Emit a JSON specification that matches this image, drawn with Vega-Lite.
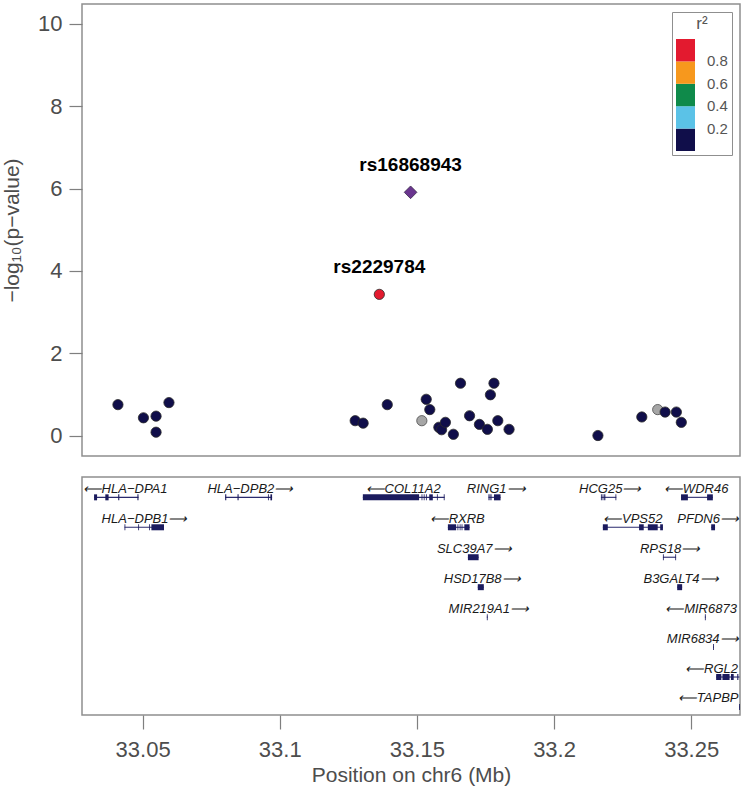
{
  "$schema": "https://vega.github.io/schema/vega-lite/v6.json",
  "background": "white",
  "padding": {"top": 3, "left": 0, "right": 3, "bottom": 2},
  "config": {
    "font": "Liberation Sans",
    "view": {"stroke": "#8f8f8f", "strokeWidth": 1.5},
    "concat": {"spacing": 19}
  },
  "datasets": {
    "snps": [
      {"snp": "rs16868943", "pos": 33.1477, "logp": 5.91, "r2": 1.0, "kind": "lead"},
      {"snp": "rs2229784", "pos": 33.1363, "logp": 3.43, "r2": 0.92, "kind": "ld"},
      {"snp": "", "pos": 33.0410, "logp": 0.75, "r2": 0.05, "kind": "ld"},
      {"snp": "", "pos": 33.0503, "logp": 0.43, "r2": 0.04, "kind": "ld"},
      {"snp": "", "pos": 33.0549, "logp": 0.47, "r2": 0.06, "kind": "ld"},
      {"snp": "", "pos": 33.0549, "logp": 0.08, "r2": 0.03, "kind": "ld"},
      {"snp": "", "pos": 33.0596, "logp": 0.80, "r2": 0.05, "kind": "ld"},
      {"snp": "", "pos": 33.1275, "logp": 0.36, "r2": 0.08, "kind": "ld"},
      {"snp": "", "pos": 33.1304, "logp": 0.30, "r2": 0.07, "kind": "ld"},
      {"snp": "", "pos": 33.1392, "logp": 0.75, "r2": 0.10, "kind": "ld"},
      {"snp": "", "pos": 33.1518, "logp": 0.36, "r2": null, "kind": "na"},
      {"snp": "", "pos": 33.1534, "logp": 0.88, "r2": 0.12, "kind": "ld"},
      {"snp": "", "pos": 33.1547, "logp": 0.63, "r2": 0.11, "kind": "ld"},
      {"snp": "", "pos": 33.1580, "logp": 0.20, "r2": 0.06, "kind": "ld"},
      {"snp": "", "pos": 33.1590, "logp": 0.14, "r2": 0.05, "kind": "ld"},
      {"snp": "", "pos": 33.1604, "logp": 0.32, "r2": 0.07, "kind": "ld"},
      {"snp": "", "pos": 33.1633, "logp": 0.03, "r2": 0.02, "kind": "ld"},
      {"snp": "", "pos": 33.1659, "logp": 1.27, "r2": 0.15, "kind": "ld"},
      {"snp": "", "pos": 33.1692, "logp": 0.48, "r2": 0.06, "kind": "ld"},
      {"snp": "", "pos": 33.1728, "logp": 0.27, "r2": 0.04, "kind": "ld"},
      {"snp": "", "pos": 33.1757, "logp": 0.15, "r2": 0.03, "kind": "ld"},
      {"snp": "", "pos": 33.1768, "logp": 0.99, "r2": 0.13, "kind": "ld"},
      {"snp": "", "pos": 33.1781, "logp": 1.27, "r2": 0.14, "kind": "ld"},
      {"snp": "", "pos": 33.1795, "logp": 0.36, "r2": 0.05, "kind": "ld"},
      {"snp": "", "pos": 33.1836, "logp": 0.15, "r2": 0.03, "kind": "ld"},
      {"snp": "", "pos": 33.2160, "logp": 0.0, "r2": 0.01, "kind": "ld"},
      {"snp": "", "pos": 33.2320, "logp": 0.45, "r2": 0.04, "kind": "ld"},
      {"snp": "", "pos": 33.2378, "logp": 0.63, "r2": null, "kind": "na"},
      {"snp": "", "pos": 33.2405, "logp": 0.57, "r2": 0.05, "kind": "ld"},
      {"snp": "", "pos": 33.2446, "logp": 0.57, "r2": 0.04, "kind": "ld"},
      {"snp": "", "pos": 33.2464, "logp": 0.32, "r2": 0.03, "kind": "ld"}
    ],
    "genes": [
      {"gene": "HLA-DPA1", "row": 1, "start": 33.0323, "end": 33.0485, "label": "⟵HLA−DPA1", "lab": 33.0436},
      {"gene": "HLA-DPB2", "row": 1, "start": 33.0801, "end": 33.0972, "label": "HLA−DPB2⟶", "lab": 33.0893},
      {"gene": "COL11A2", "row": 1, "start": 33.1303, "end": 33.1601, "label": "⟵COL11A2", "lab": 33.1450},
      {"gene": "RING1", "row": 1, "start": 33.1761, "end": 33.1805, "label": "RING1⟶", "lab": 33.1789},
      {"gene": "HCG25", "row": 1, "start": 33.2171, "end": 33.2227, "label": "HCG25⟶", "lab": 33.2205},
      {"gene": "WDR46", "row": 1, "start": 33.2463, "end": 33.2579, "label": "⟵WDR46", "lab": 33.2518},
      {"gene": "HLA-DPB1", "row": 2, "start": 33.0434, "end": 33.0578, "label": "HLA−DPB1⟶", "lab": 33.0507},
      {"gene": "RXRB", "row": 2, "start": 33.1613, "end": 33.1692, "label": "⟵RXRB", "lab": 33.1647},
      {"gene": "VPS52", "row": 2, "start": 33.2178, "end": 33.2397, "label": "⟵VPS52", "lab": 33.2287},
      {"gene": "PFDN6", "row": 2, "start": 33.2573, "end": 33.2587, "label": "PFDN6⟶", "lab": 33.2562},
      {"gene": "SLC39A7", "row": 3, "start": 33.1686, "end": 33.1725, "label": "SLC39A7⟶", "lab": 33.1709},
      {"gene": "RPS18", "row": 3, "start": 33.2397, "end": 33.2445, "label": "RPS18⟶", "lab": 33.2423},
      {"gene": "HSD17B8", "row": 4, "start": 33.1722, "end": 33.1744, "label": "HSD17B8⟶", "lab": 33.1738},
      {"gene": "B3GALT4", "row": 4, "start": 33.2449, "end": 33.2467, "label": "B3GALT4⟶", "lab": 33.2463},
      {"gene": "MIR219A1", "row": 5, "start": 33.1755, "end": 33.1758, "label": "MIR219A1⟶", "lab": 33.1762},
      {"gene": "MIR6873", "row": 5, "start": 33.2550, "end": 33.2553, "label": "⟵MIR6873", "lab": 33.2536},
      {"gene": "MIR6834", "row": 6, "start": 33.2580, "end": 33.2583, "label": "MIR6834⟶", "lab": 33.2542},
      {"gene": "RGL2", "row": 7, "start": 33.2591, "end": 33.2676, "label": "⟵RGL2", "lab": 33.2574},
      {"gene": "TAPBP", "row": 8, "start": 33.2675, "end": 33.2700, "label": "⟵TAPBP", "lab": 33.2562}
    ],
    "exons": [
      {"gene": "HLA-DPA1", "row": 1, "start": 33.0323, "end": 33.0334},
      {"gene": "HLA-DPA1", "row": 1, "start": 33.0364, "end": 33.0376},
      {"gene": "HLA-DPA1", "row": 1, "start": 33.0411, "end": 33.0415},
      {"gene": "HLA-DPA1", "row": 1, "start": 33.0481, "end": 33.0485},
      {"gene": "HLA-DPB2", "row": 1, "start": 33.0801, "end": 33.0805},
      {"gene": "HLA-DPB2", "row": 1, "start": 33.0846, "end": 33.0850},
      {"gene": "HLA-DPB2", "row": 1, "start": 33.0957, "end": 33.0960},
      {"gene": "HLA-DPB2", "row": 1, "start": 33.0966, "end": 33.0972},
      {"gene": "COL11A2", "row": 1, "start": 33.1303, "end": 33.1508},
      {"gene": "COL11A2", "row": 1, "start": 33.1517, "end": 33.1520},
      {"gene": "COL11A2", "row": 1, "start": 33.1525, "end": 33.1528},
      {"gene": "COL11A2", "row": 1, "start": 33.1533, "end": 33.1536},
      {"gene": "COL11A2", "row": 1, "start": 33.1545, "end": 33.1558},
      {"gene": "COL11A2", "row": 1, "start": 33.1573, "end": 33.1576},
      {"gene": "COL11A2", "row": 1, "start": 33.1598, "end": 33.1601},
      {"gene": "RING1", "row": 1, "start": 33.1761, "end": 33.1765},
      {"gene": "RING1", "row": 1, "start": 33.1768, "end": 33.1772},
      {"gene": "RING1", "row": 1, "start": 33.1781, "end": 33.1805},
      {"gene": "HCG25", "row": 1, "start": 33.2171, "end": 33.2174},
      {"gene": "HCG25", "row": 1, "start": 33.2177, "end": 33.2180},
      {"gene": "HCG25", "row": 1, "start": 33.2183, "end": 33.2187},
      {"gene": "HCG25", "row": 1, "start": 33.2224, "end": 33.2227},
      {"gene": "WDR46", "row": 1, "start": 33.2463, "end": 33.2488},
      {"gene": "WDR46", "row": 1, "start": 33.2558, "end": 33.2579},
      {"gene": "HLA-DPB1", "row": 2, "start": 33.0434, "end": 33.0437},
      {"gene": "HLA-DPB1", "row": 2, "start": 33.0484, "end": 33.0487},
      {"gene": "HLA-DPB1", "row": 2, "start": 33.0524, "end": 33.0527},
      {"gene": "HLA-DPB1", "row": 2, "start": 33.0532, "end": 33.0578},
      {"gene": "RXRB", "row": 2, "start": 33.1613, "end": 33.1643},
      {"gene": "RXRB", "row": 2, "start": 33.1648, "end": 33.1651},
      {"gene": "RXRB", "row": 2, "start": 33.1656, "end": 33.1659},
      {"gene": "RXRB", "row": 2, "start": 33.1663, "end": 33.1666},
      {"gene": "RXRB", "row": 2, "start": 33.1673, "end": 33.1692},
      {"gene": "VPS52", "row": 2, "start": 33.2178, "end": 33.2196},
      {"gene": "VPS52", "row": 2, "start": 33.2310, "end": 33.2327},
      {"gene": "VPS52", "row": 2, "start": 33.2342, "end": 33.2378},
      {"gene": "VPS52", "row": 2, "start": 33.2387, "end": 33.2397},
      {"gene": "PFDN6", "row": 2, "start": 33.2573, "end": 33.2587},
      {"gene": "SLC39A7", "row": 3, "start": 33.1686, "end": 33.1725},
      {"gene": "RPS18", "row": 3, "start": 33.2397, "end": 33.2400},
      {"gene": "RPS18", "row": 3, "start": 33.2442, "end": 33.2445},
      {"gene": "HSD17B8", "row": 4, "start": 33.1722, "end": 33.1744},
      {"gene": "B3GALT4", "row": 4, "start": 33.2449, "end": 33.2467},
      {"gene": "MIR219A1", "row": 5, "start": 33.1755, "end": 33.1758},
      {"gene": "MIR6873", "row": 5, "start": 33.2550, "end": 33.2553},
      {"gene": "MIR6834", "row": 6, "start": 33.2580, "end": 33.2583},
      {"gene": "RGL2", "row": 7, "start": 33.2591, "end": 33.2610},
      {"gene": "RGL2", "row": 7, "start": 33.2614, "end": 33.2640},
      {"gene": "RGL2", "row": 7, "start": 33.2645, "end": 33.2655},
      {"gene": "RGL2", "row": 7, "start": 33.2668, "end": 33.2672},
      {"gene": "TAPBP", "row": 8, "start": 33.2675, "end": 33.2700}
    ]
  },
  "vconcat": [
    {
      "width": 658,
      "height": 452,
      "layer": [
        {
          "data": {"name": "snps"},
          "transform": [{"filter": "datum.kind === 'na'"}],
          "mark": {"type": "point", "shape": "circle", "filled": true, "size": 105, "color": "#a6a6a6", "stroke": "#4a4a4a", "strokeWidth": 0.8, "opacity": 1},
          "encoding": {
            "x": {"field": "pos", "type": "quantitative", "scale": {"domain": [33.0279, 33.2678], "nice": false, "zero": false}, "axis": null},
            "y": {"field": "logp", "type": "quantitative", "scale": {"domain": [-0.498, 10.486], "nice": false, "zero": false},
              "axis": {"values": [0, 2, 4, 6, 8, 10], "title": "−log₁₀(p−value)", "domain": false, "grid": false,
                "tickSize": 13, "tickColor": "#7f7f7f", "tickWidth": 1.2, "labelPadding": 7, "labelFontSize": 22,
                "labelColor": "#4d4d4d", "titleFontSize": 21, "titleFontWeight": "normal", "titleColor": "#4d4d4d", "titlePadding": 15}}
          }
        },
        {
          "data": {"name": "snps"},
          "transform": [{"filter": "datum.kind === 'ld'"}],
          "mark": {"type": "point", "shape": "circle", "filled": true, "size": 105, "stroke": "#2a2a2a", "strokeWidth": 0.8, "opacity": 1},
          "encoding": {
            "x": {"field": "pos", "type": "quantitative"},
            "y": {"field": "logp", "type": "quantitative"},
            "color": {"field": "r2", "type": "quantitative",
              "scale": {"type": "threshold", "domain": [0.2, 0.4, 0.6, 0.8], "range": ["#100e4a", "#5bc2e7", "#0f8a4a", "#f7981d", "#e31a2f"]},
              "legend": {"type": "gradient", "title": "r²", "orient": "top-right", "offset": 8, "direction": "vertical",
                "gradientLength": 112, "gradientThickness": 19, "gradientStrokeWidth": 0, "padding": 4,
                "strokeColor": "#8f8f8f", "fillColor": "white", "titleFontSize": 17, "titleFontWeight": "normal",
                "titleColor": "#555555", "titleAnchor": "middle", "titlePadding": 6, "labelFontSize": 15, "labelColor": "#555555",
                "labelOffset": 12, "labelOverlap": false, "labelExpr": "isFinite(datum.value) ? format(datum.value, '.1f') : ''"}}
          }
        },
        {
          "data": {"name": "snps"},
          "transform": [{"filter": "datum.kind === 'lead'"}],
          "mark": {"type": "point", "shape": "diamond", "filled": true, "size": 160, "color": "#6a358f", "stroke": "#3a2a4a", "strokeWidth": 0.8, "opacity": 1},
          "encoding": {
            "x": {"field": "pos", "type": "quantitative"},
            "y": {"field": "logp", "type": "quantitative"}
          }
        },
        {
          "data": {"name": "snps"},
          "transform": [{"filter": "datum.snp !== ''"}],
          "mark": {"type": "text", "fontWeight": "bold", "fontSize": 19, "color": "#000000", "baseline": "alphabetic", "dy": -21},
          "encoding": {
            "x": {"field": "pos", "type": "quantitative"},
            "y": {"field": "logp", "type": "quantitative"},
            "text": {"field": "snp"}
          }
        }
      ]
    },
    {
      "width": 658,
      "height": 238,
      "layer": [
        {
          "data": {"name": "genes"},
          "mark": {"type": "rule", "color": "#2a2a6e", "strokeWidth": 1.1, "clip": true},
          "encoding": {
            "x": {"field": "start", "type": "quantitative", "scale": {"domain": [33.0279, 33.2678], "nice": false, "zero": false},
              "axis": {"values": [33.05, 33.1, 33.15, 33.2, 33.25], "format": "~g", "title": "Position on chr6 (Mb)",
                "domain": false, "grid": false, "tickSize": 14, "tickColor": "#7f7f7f", "tickWidth": 1.2, "labelPadding": 10,
                "labelFontSize": 22, "labelColor": "#4d4d4d", "labelFlush": false, "labelOverlap": false,
                "titleFontSize": 21, "titleFontWeight": "normal", "titleColor": "#4d4d4d", "titlePadding": 4}},
            "x2": {"field": "end"},
            "y": {"field": "row", "type": "quantitative", "scale": {"domain": [0.321, 8.268], "reverse": true, "nice": false, "zero": false}, "axis": null}
          }
        },
        {
          "data": {"name": "exons"},
          "mark": {"type": "rect", "color": "#1b1b5e", "height": 6, "clip": true},
          "encoding": {
            "x": {"field": "start", "type": "quantitative"},
            "x2": {"field": "end"},
            "y": {"field": "row", "type": "quantitative"}
          }
        },
        {
          "data": {"name": "genes"},
          "mark": {"type": "text", "fontStyle": "italic", "fontSize": 13, "color": "#1a1a1a", "baseline": "alphabetic", "dy": -4.5},
          "encoding": {
            "x": {"field": "lab", "type": "quantitative"},
            "y": {"field": "row", "type": "quantitative"},
            "text": {"field": "label"}
          }
        }
      ]
    }
  ]
}
